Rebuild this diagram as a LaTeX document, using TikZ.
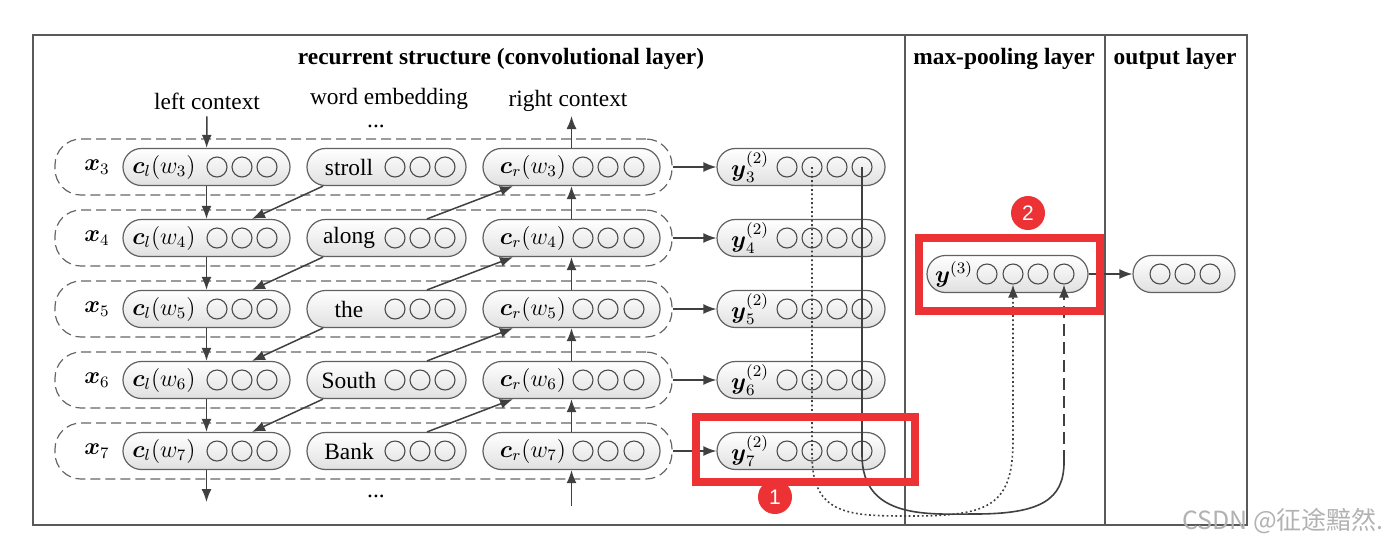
\documentclass[tikz,border=0pt]{standalone}
\usepackage{amsmath}
\usepackage[no-math]{fontspec}
\setmainfont{Liberation Serif}
\newfontfamily\marksf{Liberation Sans}
\newfontfamily\cjkfont{Noto Sans CJK SC}
\usetikzlibrary{arrows.meta}
\definecolor{markred}{RGB}{236,50,52}

\begin{document}
\begin{tikzpicture}[x=0.5pt,y=-0.5pt,font=\fontsize{11.7}{14}\selectfont,
  pill/.style={draw=black!62,line width=0.6pt,rounded corners=9.2pt,top color=white,bottom color=black!12,minimum height=18.5pt,inner sep=0pt},
  unit/.style={draw=black!70,line width=0.55pt,circle,minimum size=10pt,inner sep=0pt},
  rowbox/.style={draw=black!60,line width=0.6pt,dash pattern=on 5pt off 2.5pt,rounded corners=13pt,minimum width=308.5pt,minimum height=28pt},
  link/.style={draw=black!75,line width=0.75pt,-{Latex[length=6.5pt,width=5pt]}},
  frame/.style={draw=black!65,line width=0.75pt},
  hd/.style={font=\fontsize{11.7}{14}\selectfont\bfseries}]
\useasboundingbox (0,0) rectangle (1400,547);
% layer frames
\draw[frame] (33,35) rectangle (1247,525);
\draw[frame] (905,35) -- (905,525);
\draw[frame] (1105,35) -- (1105,525);
\node[hd] (h1) at (501,59) {recurrent structure (convolutional layer)};
\node[hd] (h2) at (1004,59) {max-pooling layer};
\node[hd] (h3) at (1175,59) {output layer};
\node (lc) at (207,101) {left context};
\node[inner sep=1pt] (we) at (389,99) {word embedding};
\node (rc) at (568,101) {right context};
\node[inner sep=0pt] (dtop) at (376,126) {...};
\node[inner sep=0pt] (dbot) at (376,496) {...};
% one row per word
\foreach \i/\ry/\w in {3/167/stroll,4/238/along,5/309/the,6/380/South,7/451/Bank}{
  \node[rowbox] (r\i) at (363.5,\ry) {};
  \node (x\i) at (97,\ry) {$\boldsymbol{x}_{\i}$};
  \node[pill,minimum width=83.5pt] (cl\i) at (206.5,\ry) {};
  \node (clt\i) at (164,\ry) {$\boldsymbol{c}_l(w_{\i})$};
  \foreach \cx [count=\k] in {217,242,267} \node[unit] (cl\i u\k) at (\cx,\ry) {};
  \node[pill,minimum width=79.5pt] (w\i) at (386.5,\ry) {};
  \node (wt\i) at (349,\ry) {\w};
  \foreach \cx [count=\k] in {395,420,445} \node[unit] (w\i u\k) at (\cx,\ry) {};
  \node[pill,minimum width=88.5pt] (cr\i) at (571.5,\ry) {};
  \node (crt\i) at (533,\ry) {$\boldsymbol{c}_r(w_{\i})$};
  \foreach \cx [count=\k] in {583,608,634} \node[unit] (cr\i u\k) at (\cx,\ry) {};
  \node[pill,minimum width=84pt] (y\i) at (801,\ry) {};
  \node (yt\i) at (750,\ry) {$\boldsymbol{y}_{\i}^{(2)}$};
  \foreach \cx [count=\k] in {787,812,837,862} \node[unit] (y\i u\k) at (\cx,\ry) {};
  \draw[link] (r\i.east) -- (y\i.west);
}
% recurrent links
\foreach \i/\j in {3/4,4/5,5/6,6/7}{
  \draw[link] (cl\i) -- (cl\j);
  \draw[link] (cr\j) -- (cr\i);
  \draw[link] ([xshift=-31.75pt]w\i.south) -- ([xshift=22.75pt]cl\j.north);
  \draw[link] ([xshift=20.25pt]w\j.north) -- ([xshift=-29.25pt]cr\i.south);
}
\coordinate (rctop) at (571.5,116);
\coordinate (clbot) at (206.5,502);
\coordinate (crbot) at (571.5,506);
\draw[link] (lc) -- (cl3);
\draw[link] (cr3) -- (rctop);
\draw[link] (cl7) -- (clbot);
\draw[link] (crbot) -- (cr7);
% max-pooling and output
\node[pill,minimum width=80.5pt] (mp) at (1007.5,274) {};
\node (mpt) at (954,274) {$\boldsymbol{y}^{(3)}$};
\foreach \cx [count=\k] in {987,1013,1038,1064} \node[unit] (mpu\k) at (\cx,274) {};
\node[pill,minimum width=51pt] (out) at (1184,274) {};
\foreach \cx [count=\k] in {1160,1185,1210} \node[unit] (outu\k) at (\cx,274) {};
\draw[link] (mp) -- (out);
\coordinate (bend) at (1064,462);
\draw[link,line width=0.8pt,dash pattern=on 0.9pt off 1.3pt] (y3u2.center) -- (812,455) .. controls (812,516) and (850,516) .. (912,516) .. controls (990,516) and (1013,505) .. (1013,440) -- (mpu2.south);
\draw[black!75,line width=0.8pt] (y3u4.center) -- (862,455) .. controls (862,520) and (930,514) .. (975,514) .. controls (1040,514) and (1064,500) .. (bend);
\draw[link,line width=0.8pt,dash pattern=on 6pt off 3pt] (bend) -- (mpu4.south);
% red marks
\draw[markred,line width=4pt] (696,417) rectangle (915,482);
\draw[markred,line width=4pt] (919,238) rectangle (1100,311);
\node[circle,fill=markred,minimum size=17pt,inner sep=0pt,text=white,font=\marksf\fontsize{10.5}{12}\selectfont] (m1) at (775,497) {1};
\node[circle,fill=markred,minimum size=17pt,inner sep=0pt,text=white,font=\marksf\fontsize{10.5}{12}\selectfont] (m2) at (1028,213) {2};
\node[text=black!30,font=\cjkfont\fontsize{12.5}{14}\selectfont] (wm) at (1283,521) {CSDN @征途黯然.};
\end{tikzpicture}
\end{document}
